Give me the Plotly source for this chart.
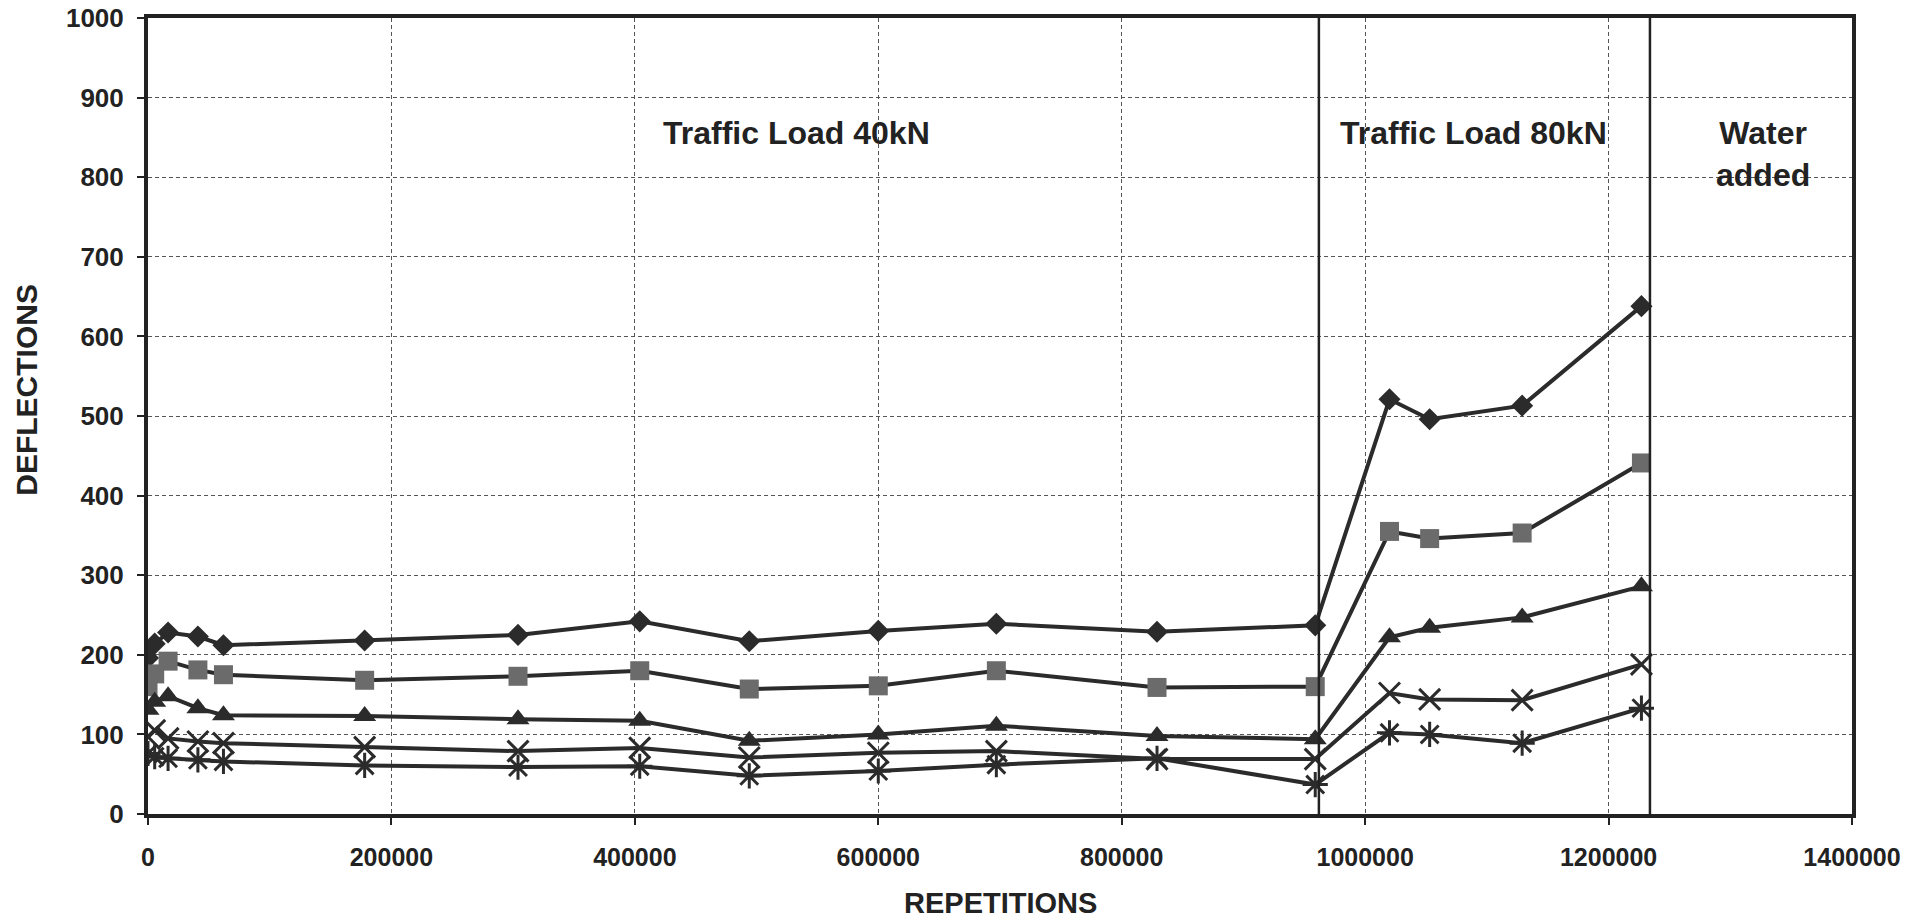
import plotly.graph_objects as go

# load repetitions at which the deflections were read
repetitions = [0, 5500, 16500, 41000, 62000, 178000, 304000, 404000, 494000,
               600000, 697000, 829000, 959000, 1020000, 1053000, 1129000, 1227000]

# deflection readings, one list per measuring point
defl_diamond = [196, 214, 228, 223, 212, 218, 225, 242, 217, 230, 239, 229, 237, 521, 496, 513, 638]
defl_square = [160, 176, 192, 181, 175, 168, 173, 180, 157, 161, 180, 159, 160, 355, 346, 353, 441]
defl_triangle = [131, 141, 148, 133, 124, 123, 119, 117, 92, 100, 111, 98, 94, 222, 234, 247, 286]
defl_cross = [97, 105, 95, 91, 89, 84, 79, 83, 71, 77, 79, 69, 69, 152, 144, 143, 188]
defl_star = [76, 72, 70, 68, 66, 61, 59, 60, 48, 54, 62, 70, 37, 102, 100, 89, 133]

phase_limits = [962000, 1234000]
phase_labels = ["Traffic Load 40kN", "Traffic Load 80kN", "Water<br>added"]
phase_label_x = [533000, 1089000, 1327000]
phase_label_y = [855, 855, 829]

x_ticks = [0, 200000, 400000, 600000, 800000, 1000000, 1200000, 1400000]
y_ticks = [0, 100, 200, 300, 400, 500, 600, 700, 800, 900, 1000]

FONT = "Liberation Sans, Arial, sans-serif"
INK = "#222222"


def format_plot(fig) -> go.Figure:
    """Axes, grid and frame like the scanned report figure"""
    fig.update_layout(
        width=1920,
        height=920,
        autosize=False,
        plot_bgcolor="white",
        paper_bgcolor="white",
        showlegend=False,
        font=dict(family=FONT, size=24, color=INK, weight="bold"),
        margin=dict(l=148, r=68, t=18, b=106),
    )

    axis_style = dict(
        ticks="outside",
        ticklen=7,
        tickwidth=1.5,
        tickcolor=INK,
        showline=True,
        linewidth=4,
        linecolor=INK,
        mirror=True,
        showgrid=True,
        gridcolor="#555555",
        gridwidth=1,
        griddash="4px,3px",
        zeroline=False,
        automargin=False,
        ticklabeloverflow="allow",
    )

    fig.update_xaxes(
        range=[0, 1400000],
        tickvals=x_ticks,
        ticktext=[str(v) for v in x_ticks],
        ticklabelstandoff=11,
        tickfont=dict(family=FONT, size=25, color=INK, weight="bold"),
        **axis_style,
    )
    fig.update_yaxes(
        range=[0, 1000],
        tickvals=y_ticks,
        ticktext=[str(v) for v in y_ticks],
        ticklabelstandoff=8,
        tickfont=dict(family=FONT, size=26, color=INK, weight="bold"),
        **axis_style,
    )
    return fig


def add_series(fig, y, symbol, size, fill, open_marker=False):
    marker = dict(symbol=symbol, size=size, color=fill)
    if open_marker:
        marker["line"] = dict(color=fill, width=3)
    else:
        marker["line"] = dict(color=fill, width=0)
    fig.add_trace(
        go.Scatter(
            x=repetitions,
            y=y,
            mode="lines+markers",
            line=dict(color="#2b2b2b", width=4),
            marker=marker,
        )
    )


fig = go.Figure()
add_series(fig, defl_diamond, "diamond", 17, "#2b2b2b")
add_series(fig, defl_square, "square", 19, "#6b6b6b")
add_series(fig, defl_triangle, "triangle-up", 20, "#2b2b2b")
add_series(fig, defl_cross, "x-thin-open", 21, "#2b2b2b", open_marker=True)
add_series(fig, defl_star, "asterisk-open", 21, "#2b2b2b", open_marker=True)

for xl in phase_limits:
    fig.add_vline(x=xl, line_width=2.5, line_color=INK)

for txt, xp, yp in zip(phase_labels, phase_label_x, phase_label_y):
    fig.add_annotation(
        x=xp, y=yp, text=txt, showarrow=False,
        font=dict(family=FONT, size=32, color=INK, weight="bold"),
    )

# axis titles
fig.add_annotation(
    x=-0.071, y=0.533, xref="paper", yref="paper", text="DEFLECTIONS",
    textangle=-90, showarrow=False, xanchor="center", yanchor="middle",
    font=dict(family=FONT, size=30, color=INK, weight="bold"),
)
fig.add_annotation(
    x=0.5, y=-0.1118, xref="paper", yref="paper", text="REPETITIONS",
    showarrow=False, xanchor="center", yanchor="middle",
    font=dict(family=FONT, size=29, color=INK, weight="bold"),
)

fig = format_plot(fig)
# drop the default body margin so the 1920x920 figure fills the window
fig.write_html(
    "out.html",
    config={"displayModeBar": False},
    post_script="document.body.style.margin = '0';",
)
